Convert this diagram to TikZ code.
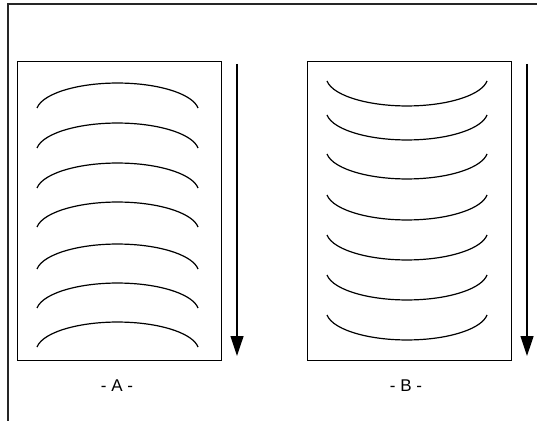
\documentclass[tikz,border=0pt]{standalone}
\usepackage{fontspec}
\setmainfont{Liberation Sans}
\usetikzlibrary{arrows.meta,positioning}

\begin{document}
\begin{tikzpicture}[x=1pt, y=1pt, line width=1pt, >={Triangle[length=20pt,width=13pt]}]
    \useasboundingbox (0,0) rectangle (537,420);
    % outer frame (cut off at right and bottom)
    \draw[line width=1.2pt, draw=black!85] (8,-10) rectangle (545,416);
    % the two panels
    \node[draw, minimum width=204pt, minimum height=298pt, inner sep=0pt] (boxA) at (119,209) {};
    \node[draw, minimum width=204pt, minimum height=298pt, inner sep=0pt] (boxB) at (409,209) {};
    % arcs in A: bulging upwards
    \foreach \y in {83,123,163,202,244,283,322}
        \draw[line width=1.2pt] (37,420-\y-25) arc[start angle=172, end angle=8, x radius=81.3, y radius=29];
    % arcs in B: bulging downwards
    \foreach \y in {81,115,154,195,235,275,315}
        \draw[line width=1.2pt] (327,420-\y) arc[start angle=188, end angle=352, x radius=80.8, y radius=29];
    % direction arrows
    \coordinate (topA) at (237,356);
    \coordinate (endA) at (237,64);
    \coordinate (topB) at (527,356);
    \coordinate (endB) at (527,64);
    \draw[->, line width=1.2pt] (topA) -- (endA);
    \draw[->, line width=1.2pt] (topB) -- (endB);
    % captions
    \node[font=\fontsize{17pt}{20pt}\selectfont] (labA) at (117,34) {- A -};
    \node[font=\fontsize{17pt}{20pt}\selectfont] (labB) at (406,34) {- B -};
\end{tikzpicture}
\end{document}
